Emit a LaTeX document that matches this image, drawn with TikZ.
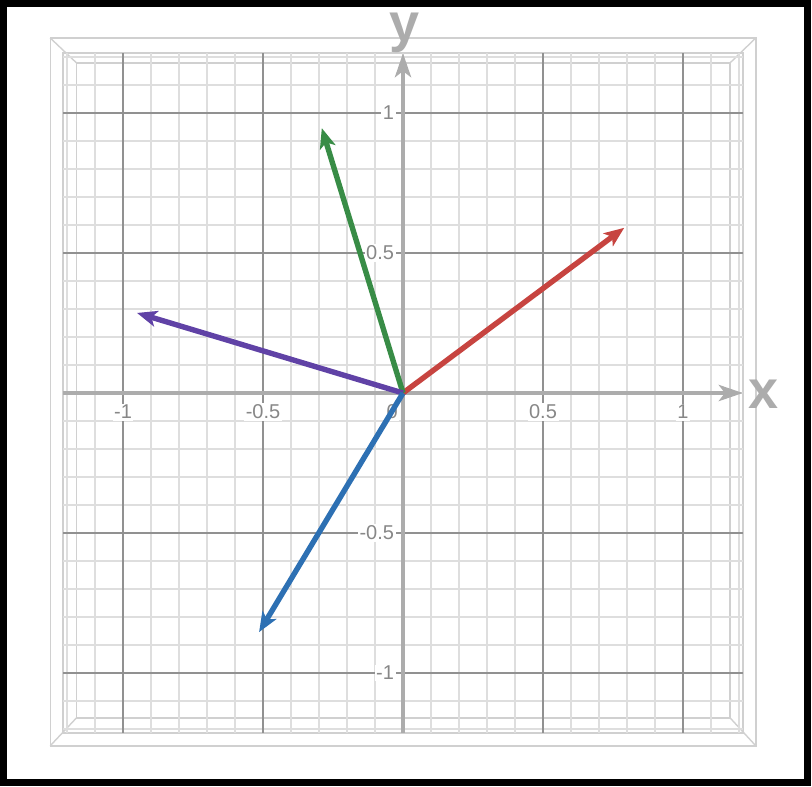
\documentclass[tikz,border=0pt]{standalone}
\usepackage{fontspec}
\setmainfont{Liberation Sans}
\usetikzlibrary{arrows.meta}
\definecolor{vecred}{HTML}{C74440}
\definecolor{vecgreen}{HTML}{388C46}
\definecolor{vecpurple}{HTML}{6042A6}
\definecolor{vecblue}{HTML}{2D70B3}
\definecolor{gridminor}{RGB}{222,222,222}
\definecolor{gridmajor}{RGB}{145,145,145}
\definecolor{axisgray}{RGB}{172,172,172}
\definecolor{framegray}{RGB}{208,208,208}
\definecolor{ticktext}{RGB}{135,135,135}

\begin{document}
\begin{tikzpicture}[x=140pt, y=140pt,
  minor/.style={gridminor, line width=1.1pt},
  major/.style={gridmajor, line width=0.6pt},
  frame/.style={framegray, line width=0.7pt},
  axis/.style={axisgray, line width=2.2pt, -{Stealth[length=12pt, width=8pt, inset=3pt]}},
  vec/.style={line width=2.7pt, -{Stealth[length=10pt, width=8pt, inset=2.5pt]}},
  tick/.style={font=\fontsize{10}{11}\selectfont, text=ticktext, fill=white, inner sep=0.8pt},
  axlabel/.style={font=\fontsize{27}{30}\selectfont\bfseries, text=axisgray, inner sep=0pt}
]
\useasboundingbox (-1.4393,-1.4036) rectangle (1.4607,1.4036);

% black border
\draw[line width=3.4pt] (-1.4275,-1.391) rectangle (1.4455,1.391);

% box frame
\draw[frame] (-1.26,-1.26) rectangle (1.26,1.268);
\draw[frame] (-1.214,-1.214) rectangle (1.214,1.214);
\draw[frame] (-1.166,-1.16) rectangle (1.168,1.179);
\draw[frame] (-1.26,1.268) -- (-1.166,1.179);
\draw[frame] (1.26,1.268) -- (1.168,1.179);
\draw[frame] (-1.26,-1.26) -- (-1.166,-1.16);
\draw[frame] (1.26,-1.26) -- (1.168,-1.16);

% grid
\foreach \i in {-12,...,12}{
  \draw[minor] (\i/10,-1.214) -- (\i/10,1.214);
  \draw[minor] (-1.214,\i/10) -- (1.214,\i/10);
}
\foreach \v in {-1,-0.5,0.5,1}{
  \draw[major] (\v,-1.214) -- (\v,1.214);
  \draw[major] (-1.214,\v) -- (1.214,\v);
}

% tick labels
\foreach \v/\t in {-1/-1,-0.5/-0.5,0.5/0.5,1/1}{
  \node[tick] (xt\t) at (\v,-0.068) {\t};
  \node[tick, anchor=east] (yt\t) at (-0.025,\v) {\t};
}
\node[tick, anchor=north east] (zero) at (-0.012,-0.035) {0};

% axes
\coordinate (O) at (0,0);
\coordinate (xend) at (1.214,0);
\coordinate (yend) at (0,1.214);
\draw[axis] (-1.214,0) -- (xend);
\draw[axis] (0,-1.214) -- (yend);
\node[axlabel] (xlab) at (1.286,-0.004) {x};
\node[axlabel, anchor=base] (ylab) at (0.007,1.257) {y};

% vectors
\coordinate (pr) at (0.79,0.59);
\coordinate (pg) at (-0.29,0.946);
\coordinate (pp) at (-0.95,0.286);
\coordinate (pb) at (-0.514,-0.854);
\draw[vec, vecred] (O) -- (pr);
\draw[vec, vecgreen] (O) -- (pg);
\draw[vec, vecpurple] (O) -- (pp);
\draw[vec, vecblue] (O) -- (pb);
\end{tikzpicture}
\end{document}
